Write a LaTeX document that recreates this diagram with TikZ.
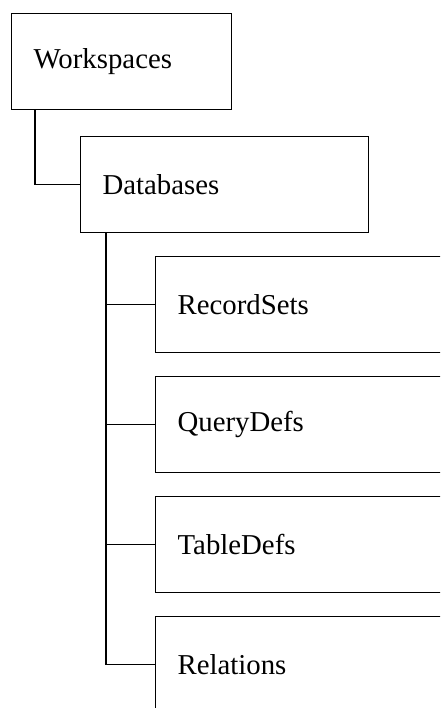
\documentclass[tikz,border=0pt]{standalone}
\usepackage{fontspec}
\setmainfont{Liberation Serif}
\usetikzlibrary{positioning}
\tikzset{
	objbox/.style={draw, line width=1.2pt, anchor=north west, align=left,
		minimum height=96pt, inner xsep=22pt, font=\fontsize{28.8}{34}\selectfont},
	link/.style={line width=1.2pt}
}

\begin{document}
\begin{tikzpicture}[x=1pt,y=-1pt]
		\useasboundingbox (0,0) rectangle (440,708);
		\clip (0,0) rectangle (440,708);
		\node[objbox, text width=176pt] (ws) at (11,13) {Workspaces};
		\node[objbox, text width=244pt] (db) at (80,136) {Databases};
		\draw[link] ([xshift=24pt]ws.south west) |- (db.west);
		\foreach \name/\txt [count=\i from 0] in {rs/RecordSets, qd/QueryDefs, td/TableDefs, rel/Relations}{
			\node[objbox, text width=256pt] (\name) at (155,256+120*\i) {\txt};
			\draw[link] ([xshift=26pt]db.south west |- \name.west) -- (\name.west);
		}
		\draw[link] ([xshift=26pt]db.south west) |- (rel.west);
	\end{tikzpicture}
\end{document}
